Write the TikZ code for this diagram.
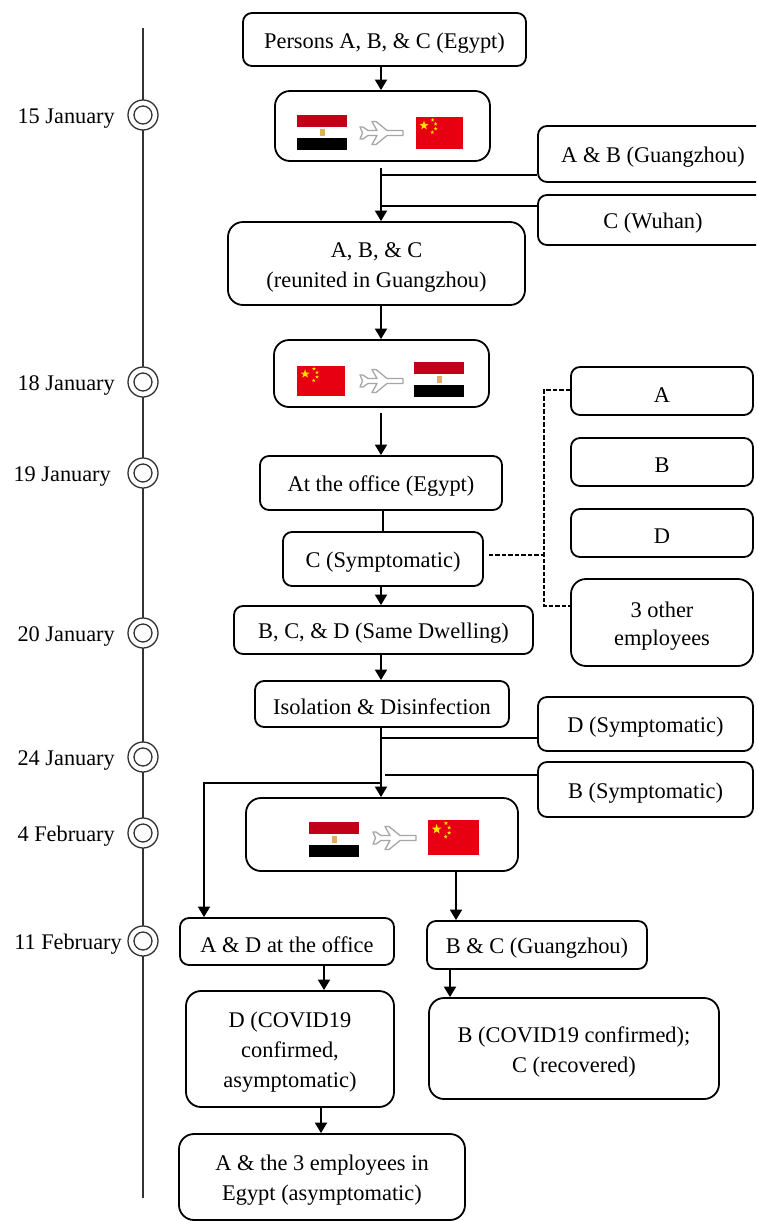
\documentclass[tikz,border=0pt]{standalone}
\usepackage{fontspec}
\setmainfont{Liberation Serif}
\usetikzlibrary{arrows.meta}
\definecolor{egred}{HTML}{C00018}
\definecolor{cnred}{HTML}{E60012}
\definecolor{cnyel}{HTML}{FFE000}
\definecolor{eggold}{HTML}{DDB060}
\newcommand{\fl}{\rule{0pt}{22pt}}
\tikzset{
  box/.style={draw=black,line width=1.8pt,fill=white,rounded corners=9pt,inner sep=0pt,align=center,font=\fontsize{22.4}{30}\selectfont,execute at begin node={\fl}},
  bigbox/.style={box,rounded corners=15pt},
  conn/.style={draw=black,line width=2pt},
  arr/.style={conn,-{Triangle[length=10.5pt,width=12pt]}},
  side/.style={draw=black,line width=1.6pt},
  dashline/.style={draw=black,line width=1.1pt,dash pattern=on 4.5pt off 2pt},
  ring/.style={circle,draw=black!80,line width=1.3pt,fill=white,minimum size=30pt,inner sep=0pt},
  date/.style={anchor=east,inner sep=0pt,align=right,font=\fontsize{22.3}{26}\selectfont,execute at begin node={\fl}},
}
% x y of top-left corner
\newcommand{\egflag}[2]{\begin{scope}[shift={(#1,#2)}]
  \fill[egred] (0,0) rectangle (50,11.5);
  \fill[black] (0,23) rectangle (50,34.5);
  \fill[eggold] (22.5,13.5) rectangle (27.5,21);
\end{scope}}
\newcommand{\cnstar}[3]{\begin{scope}[shift={(#1,#2)},scale=#3]
  \fill[cnyel] (-90:1) -- (-54:.4) -- (-18:1) -- (18:.4) -- (54:1) -- (90:.4) -- (126:1) -- (162:.4) -- (198:1) -- (234:.4) -- cycle;
\end{scope}}
\newcommand{\cnflag}[4]{\begin{scope}[shift={(#1,#2)},xscale=#3,yscale=#4]
  \fill[cnred] (0,0) rectangle (47,32);
  \cnstar{8}{8.5}{4.8}
  \cnstar{16.6}{2.9}{2}
  \cnstar{19.6}{6.9}{2}
  \cnstar{19.6}{11.7}{2}
  \cnstar{16.3}{15.3}{2}
\end{scope}}
\newcommand{\planeshape}[2]{\begin{scope}[shift={(#1,#2)}]
  \draw[draw=black!35,fill=white,line width=1.3pt,line join=round]
   (43,-2.5) -- (27,-2.5) -- (16,-11.5) -- (12,-11.5) -- (17,-2.5) -- (8,-2.5) -- (3,-6) -- (0,-6) -- (2.5,0)
   -- (0,6) -- (3,6) -- (8,2.5) -- (17,2.5) -- (12,11.5) -- (16,11.5) -- (27,2.5) -- (43,2.5) -- cycle;
\end{scope}}
\begin{document}
\begin{tikzpicture}[x=1pt,y=-1pt]
\useasboundingbox (0,0) rectangle (756,1221);
\fill[white] (0,0) rectangle (756,1221);
\clip (0,0) rectangle (756,1221);

% timeline
\coordinate (ttop) at (143,28);
\coordinate (tbot) at (143,1198);
\draw[black!80,line width=1.2pt] (ttop) -- (tbot);
\foreach \n/\y/\t/\x in {a/115/15 January/115, b/382/18 January/115, c/473/19 January/111, d/633/20 January/115, e/757/24 January/115, f/833/4 February/115, g/941/11 February/122}{
  \node[ring] (r\n) at (143,\y) {};
  \draw[black!80,line width=1.3pt] (r\n.center) circle (9);
  \node[date] (l\n) at (\x,\y) {\t};
}

% column coordinates
\coordinate (col) at (381,0);
\coordinate (colb) at (383,0);
\coordinate (colc) at (385,0);
\coordinate (left) at (204,0);
\coordinate (dv) at (544,0);

% boxes
\node[box,minimum width=283pt,minimum height=53pt] (P) at (384.5,39.5) {Persons A, B, \& C (Egypt)};
\node[bigbox,minimum width=215pt,minimum height=70pt] (F1) at (382.5,126) {};
\node[box,minimum width=230pt,minimum height=56pt] (AB) at (653,154) {A \& B (Guangzhou)};
\node[box,minimum width=230pt,minimum height=50pt] (CW) at (653,220) {C (Wuhan)};
\node[bigbox,minimum width=297pt,minimum height=83pt] (R) at (376.5,263.5) {\fl A, B, \& C\\(reunited in Guangzhou)};
\node[bigbox,minimum width=215pt,minimum height=67pt] (F2) at (381.5,373.5) {};
\node[box,minimum width=242pt,minimum height=54pt] (O) at (381,483) {At the office (Egypt)};
\node[box,minimum width=200pt,minimum height=54pt] (CS) at (383,559) {C (Symptomatic)};
\node[box,minimum width=299pt,minimum height=48pt] (BCD) at (383.5,630) {B, C, \& D (Same Dwelling)};
\node[box,minimum width=254pt,minimum height=46pt] (I) at (382,704) {Isolation \& Disinfection};
\node[box,minimum width=182pt,minimum height=48pt] (NA) at (662,391) {A};
\node[box,minimum width=182pt,minimum height=48pt] (NB) at (662,462) {B};
\node[box,minimum width=182pt,minimum height=48pt] (ND) at (662,533) {D};
\node[bigbox,minimum width=182pt,minimum height=87pt,font=\fontsize{22.4}{28}\selectfont] (N3) at (662,622.5) {\fl 3 other\\employees};
\node[box,minimum width=215pt,minimum height=54pt] (DS) at (645.5,724) {D (Symptomatic)};
\node[box,minimum width=215pt,minimum height=55pt] (BS) at (645.5,789.5) {B (Symptomatic)};
\node[bigbox,minimum width=272pt,minimum height=73pt] (F3) at (382,834.5) {};
\node[box,minimum width=214pt,minimum height=47pt] (AD) at (287,941.5) {A \& D at the office};
\node[box,minimum width=220pt,minimum height=48pt] (BC) at (537,945) {B \& C (Guangzhou)};
\node[bigbox,minimum width=208pt,minimum height=116pt] (DC) at (290,1049) {\fl D (COVID19\\confirmed,\\asymptomatic)};
\node[bigbox,minimum width=290pt,minimum height=101pt] (BCc) at (574,1048.5) {\fl B (COVID19 confirmed);\\C (recovered)};
\node[bigbox,minimum width=286pt,minimum height=86pt] (A3) at (322,1177) {\fl A \& the 3 employees in\\Egypt (asymptomatic)};

% flags
\egflag{297}{115}\planeshape{360}{133}\cnflag{416}{117}{1}{1}
\cnflag{297}{366}{1.02}{.94}\planeshape{360}{381}\egflag{414}{362}
\egflag{309}{822}\planeshape{373}{838}\cnflag{428}{820}{1.08}{1.09}

% connectors
\draw[arr] (col |- P.south) -- (col |- F1.north);
\draw[arr,shorten <=6pt] (col |- F1.south) -- (col |- R.north);
\coordinate (jab) at (AB.west |- 0,175);
\coordinate (jc) at (CW.west |- 0,206);
\draw[side] (jab) -- (col |- jab);
\draw[conn] (jc) -- (col |- jc);
\draw[arr] (col |- R.south) -- (col |- F2.north);
\draw[arr,shorten <=5pt] (col |- F2.south) -- (col |- O.north);
\draw[conn] (colb |- O.south) -- (colb |- CS.north);
\draw[arr] (col |- CS.south) -- (col |- BCD.north);
\draw[arr] (col |- BCD.south) -- (col |- I.north);
\draw[arr] (col |- I.south) -- (col |- F3.north);
\coordinate (jd) at (DS.west |- 0,738);
\coordinate (jb) at (BS.west |- 0,775);
\coordinate (jl) at (col |- 0,783);
\draw[conn] (jd) -- (col |- jd);
\draw[conn] (jb) -- (colc |- jb);
\draw[arr] (jl) -- (left |- jl) -- (left |- AD.north);
\draw[arr] (456,0 |- F3.south) -- (456,0 |- BC.north);
\draw[arr] (450,0 |- BC.south) -- (450,0 |- BCc.north);
\draw[arr] (324,0 |- AD.south) -- (324,0 |- DC.north);
\draw[arr] (321,0 |- DC.south) -- (321,0 |- A3.north);
% dashed
\coordinate (dc) at (dv |- 0,555);
\draw[dashline,shorten <=5pt] (CS.east |- dc) -- (dc);
\draw[dashline] (NA.west |- 0,390) -- (dv |- 0,390) -- (dv |- 0,606) -- (N3.west |- 0,606);
\end{tikzpicture}
\end{document}
